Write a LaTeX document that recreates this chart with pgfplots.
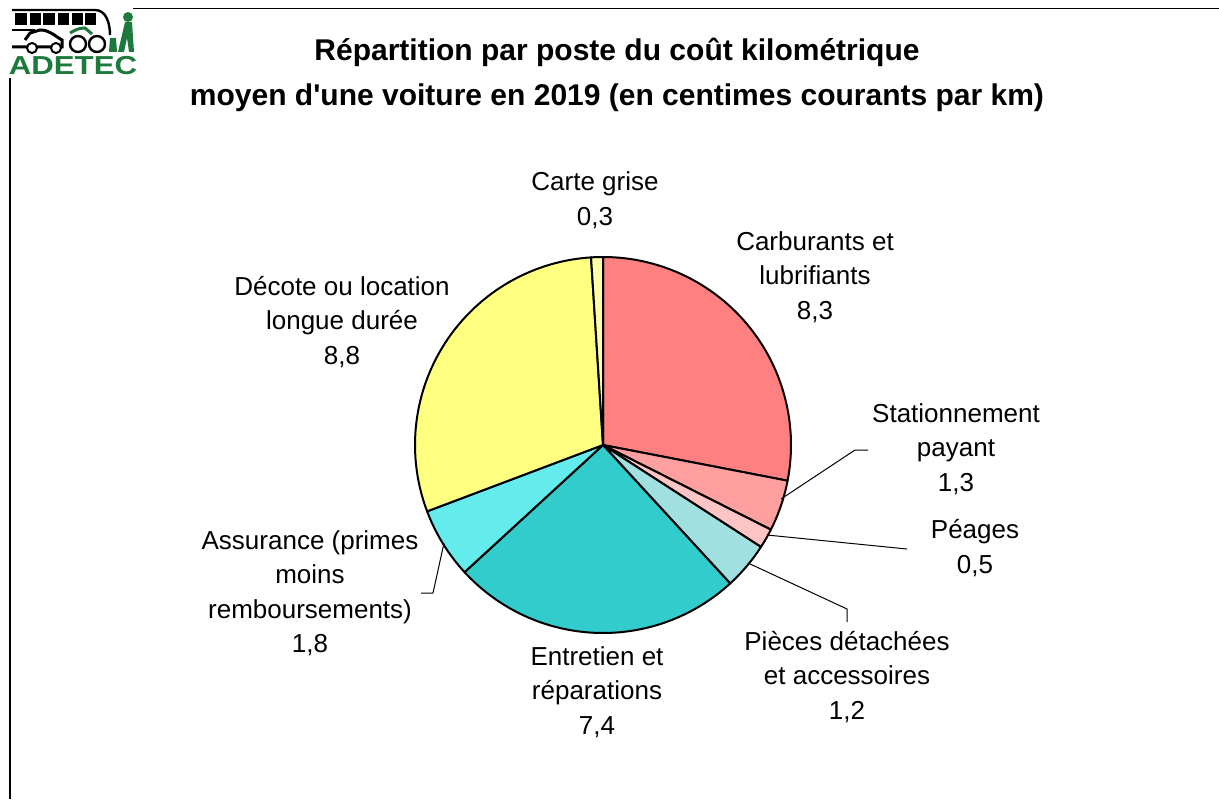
\documentclass[border=0pt]{standalone}
\usepackage{fontspec}
\setmainfont{Liberation Sans}
\newfontfamily\plainfont{Liberation Sans}
\usepackage{pgfplots}
\usepackage{pgfplotstable}
\pgfplotsset{compat=1.18}
\definecolor{cCarb}{HTML}{FF8080}
\definecolor{cStat}{HTML}{FFA0A0}
\definecolor{cPeag}{HTML}{FFC4C4}
\definecolor{cPiec}{HTML}{A0E0E0}
\definecolor{cEntr}{HTML}{33CCCC}
\definecolor{cAssu}{HTML}{64ECEC}
\definecolor{cDeco}{HTML}{FFFF80}
\definecolor{cCart}{HTML}{FFFFA8}
\definecolor{adetec}{HTML}{1E7A3C}
\pgfplotstableread[col sep=comma]{
value,col
8.3,cCarb
1.3,cStat
0.5,cPeag
1.2,cPiec
7.4,cEntr
1.8,cAssu
8.8,cDeco
0.3,cCart
}\piedata
\pgfplotstablecreatecol[create col/expr accum={\pgfmathaccuma+\thisrow{value}}{0}]{cum}\piedata
\pgfplotstablegetelem{7}{cum}\of\piedata
\let\pietotal\pgfplotsretval
\begin{document}
\begin{tikzpicture}
\begin{axis}[scale only axis, width=609.5pt, height=399.5pt,
  xmin=0, xmax=1219, ymin=-799, ymax=0, hide axis, clip=false]
\pgfplotsinvokeforeach{0,...,7}{
  \pgfplotstablegetelem{#1}{value}\of\piedata \let\pv\pgfplotsretval
  \pgfplotstablegetelem{#1}{cum}\of\piedata \let\pc\pgfplotsretval
  \pgfplotstablegetelem{#1}{col}\of\piedata \let\pcol\pgfplotsretval
  \pgfmathsetmacro\as{90-(\pc-\pv)*360/\pietotal}
  \pgfmathsetmacro\ae{90-\pc*360/\pietotal}
  \edef\tmp{\noexpand\addplot[draw=black, fill=\pcol, line width=1pt, line join=round, domain=\ae:\as, samples=80]
    ({603+188*cos(x)},{-445+188*sin(x)}) -- (axis cs:603,-445) -- cycle;}
  \tmp
}
% labels
\tikzset{lab/.style={align=center, inner sep=0pt, font=\fontsize{13}{17.25}\selectfont}}
\node[lab] at (axis cs:595,-200) {Carte grise\\0,3};
\node[lab] at (axis cs:815,-277) {Carburants et\\lubrifiants\\8,3};
\node[lab] at (axis cs:342,-322) {Décote ou location\\longue durée\\8,8};
\node[lab] at (axis cs:956,-449) {Stationnement\\payant\\1,3};
\node[lab] at (axis cs:975,-548) {Péages\\0,5};
\node[lab] at (axis cs:847,-677) {Pièces détachées\\et accessoires\\1,2};
\node[lab] at (axis cs:597,-692) {Entretien et\\réparations\\7,4};
\node[lab] at (axis cs:310,-593) {Assurance (primes\\moins\\remboursements)\\1,8};
% leader lines
\draw[line width=0.5pt] (axis cs:781,-499) -- (axis cs:855,-450) -- (axis cs:868,-450);
\draw[line width=0.5pt] (axis cs:767,-535) -- (axis cs:907,-549);
\draw[line width=0.5pt] (axis cs:748,-563) -- (axis cs:847,-609) -- (axis cs:847,-622);
\draw[line width=0.5pt] (axis cs:444,-543) -- (axis cs:433,-593) -- (axis cs:421,-593);
% title
\node[align=center, inner sep=0pt, font=\plainfont\fontsize{15}{22.5}\selectfont\bfseries] at (axis cs:617,-75)
  {Répartition par poste du coût kilométrique\\moyen d'une voiture en 2019 (en centimes courants par km)};
% frame lines
\draw[line width=0.8pt] (axis cs:133,-8.5) -- (axis cs:1219,-8.5);
\draw[line width=1pt] (axis cs:10,-78) -- (axis cs:10,-799);
% logo (simplified)
\fill[black] (axis cs:15,-13) rectangle (axis cs:27,-25);
\fill[black] (axis cs:30,-13) rectangle (axis cs:41,-25);
\fill[black] (axis cs:43,-13) rectangle (axis cs:55,-25);
\fill[black] (axis cs:58,-13) rectangle (axis cs:69,-25);
\fill[black] (axis cs:72,-13) rectangle (axis cs:83,-25);
\fill[black] (axis cs:85,-13) rectangle (axis cs:96,-25);
\draw[line width=1.2pt] (axis cs:12,-10) -- (axis cs:95,-10) to[out=0,in=90] (axis cs:110,-35);
\draw[line width=1.2pt] (axis cs:12,-30) -- (axis cs:35,-30);
\draw[line width=1.5pt] (axis cs:12,-47) -- (axis cs:62,-47) -- (axis cs:62,-40) to[out=150,in=0] (axis cs:40,-30) -- (axis cs:30,-33) -- (axis cs:25,-40);
\draw[line width=1pt, fill=white] (axis cs:32,-48) circle[radius=2.5pt];
\draw[line width=1pt, fill=white] (axis cs:56,-48) circle[radius=2.5pt];
\draw[line width=1.2pt] (axis cs:78,-44) circle[radius=4pt];
\draw[line width=1.2pt] (axis cs:97,-44) circle[radius=4pt];
\draw[adetec, line width=1.5pt] (axis cs:70,-33) to[out=30,in=180] (axis cs:85,-28) -- (axis cs:92,-34);
\fill[adetec] (axis cs:125,-22) -- (axis cs:132,-22) -- (axis cs:134,-52) -- (axis cs:129,-52) -- (axis cs:127,-38) -- (axis cs:124,-52) -- (axis cs:118,-52) -- cycle;
\fill[adetec] (axis cs:128,-17) circle[radius=2.5pt];
\fill[adetec] (axis cs:110,-38) -- (axis cs:116,-38) -- (axis cs:117,-52) -- (axis cs:109,-52) -- cycle;
\node[inner sep=0pt, text=adetec, font=\fontsize{13}{13}\selectfont\bfseries, xscale=1.2] at (axis cs:73,-66) {ADETEC};
\end{axis}
\pgfresetboundingbox
\path (0,0) rectangle (609.5pt,399.5pt);
\end{tikzpicture}
\end{document}
